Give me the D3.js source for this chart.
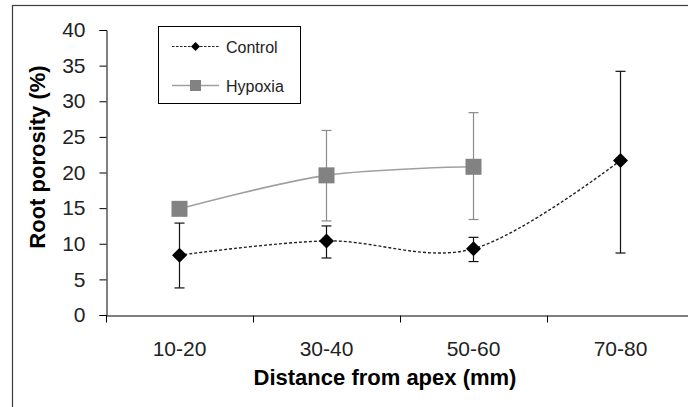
<!DOCTYPE html>
<html>
<head>
<meta charset="utf-8">
<script src="https://cdn.jsdelivr.net/npm/d3@7"></script>
<style>
  body { margin: 0; background: #fff; }
  svg { display: block; font-family: "Liberation Sans", Arial, sans-serif; }
</style>
</head>
<body>
<div id="chart"></div>
<script>
// Root porosity along the root, control vs hypoxia

// data
let categories = ['10-20', '30-40', '50-60', '70-80']
let yTicks = [0, 5, 10, 15, 20, 25, 30, 35, 40]

let controlMean = [8.4, 10.4, 9.3, 21.7]
let controlLow = [3.8, 8.0, 7.5, 8.7]
let controlHigh = [12.9, 12.5, 10.9, 34.2]

let hypoxiaMean = [14.9, 19.6, 20.8]
let hypoxiaLow = [14.3, 13.2, 13.4]
let hypoxiaHigh = [15.5, 25.9, 28.4]

let chart = {
  width: 688,
  height: 407,
  left: 106,
  right: 694,
  top: 30,
  bottom: 315,
}

let svg = d3.select('#chart')
  .append('svg')
  .attr('width', chart.width)
  .attr('height', chart.height)

// outer chart frame (runs off the right and bottom edge)
svg.append('rect')
  .attr('x', 12.5)
  .attr('y', 5.5)
  .attr('width', 700)
  .attr('height', 420)
  .attr('fill', '#fff')
  .attr('stroke', '#3c3c3c')
  .attr('stroke-width', 1.2)

let x = d3.scaleBand()
  .domain(categories)
  .range([chart.left, chart.right])

let y = d3.scaleLinear()
  .domain([0, 40])
  .range([chart.bottom, chart.top])

let cx = (d) => x(d) + x.bandwidth() / 2

// y axis
let yAxis = svg.append('g')
  .attr('transform', `translate(${chart.left + 0.5},0)`)
  .call(d3.axisLeft(y).tickValues(yTicks).tickSize(7).tickPadding(14))

// x axis, ticks sit on the category boundaries
let xAxis = svg.append('g')
  .attr('transform', `translate(0,${chart.bottom + 0.5})`)
  .call(d3.axisBottom(x).tickSize(0).tickPadding(26))

xAxis.selectAll('.tick-mark')
  .data(categories)
  .enter()
  .append('line')
  .attr('class', 'tick-mark')
  .attr('x1', (d) => Math.round(x(d)) + 0.5)
  .attr('x2', (d) => Math.round(x(d)) + 0.5)
  .attr('y1', 0)
  .attr('y2', 7)
  .attr('stroke', '#000')

svg.selectAll('.domain').attr('stroke', '#000')
svg.selectAll('.tick line').attr('stroke', '#000')
svg.selectAll('.tick text')
  .attr('font-size', 21)
  .attr('fill', '#222')
  .attr('font-family', '"Liberation Sans", Arial, sans-serif')

// axis titles
svg.append('text')
  .attr('transform', `translate(45,157) rotate(-90)`)
  .attr('text-anchor', 'middle')
  .attr('font-size', 22)
  .attr('font-weight', 'bold')
  .text('Root porosity (%)')

svg.append('text')
  .attr('x', 385)
  .attr('y', 385)
  .attr('text-anchor', 'middle')
  .attr('font-size', 22)
  .attr('font-weight', 'bold')
  .text('Distance from apex (mm)')

// series
let line = d3.line()
  .x((d) => cx(d.cat))
  .y((d) => y(d.v))
  .curve(d3.curveCardinal.tension(0))

let control = categories.map((c, i) => ({cat: c, v: controlMean[i], lo: controlLow[i], hi: controlHigh[i]}))
let hypoxia = hypoxiaMean.map((v, i) => ({cat: categories[i], v: v, lo: hypoxiaLow[i], hi: hypoxiaHigh[i]}))

function errorBars(data, color) {
  let g = svg.append('g').attr('stroke', color).attr('stroke-width', 1.2)
  g.selectAll('.bar')
    .data(data)
    .enter()
    .append('line')
    .attr('x1', (d) => cx(d.cat))
    .attr('x2', (d) => cx(d.cat))
    .attr('y1', (d) => y(d.lo))
    .attr('y2', (d) => y(d.hi))
  g.selectAll('.cap-lo')
    .data(data)
    .enter()
    .append('line')
    .attr('x1', (d) => cx(d.cat) - 5)
    .attr('x2', (d) => cx(d.cat) + 5)
    .attr('y1', (d) => y(d.lo))
    .attr('y2', (d) => y(d.lo))
  g.selectAll('.cap-hi')
    .data(data)
    .enter()
    .append('line')
    .attr('x1', (d) => cx(d.cat) - 5)
    .attr('x2', (d) => cx(d.cat) + 5)
    .attr('y1', (d) => y(d.hi))
    .attr('y2', (d) => y(d.hi))
}

errorBars(hypoxia, '#8a8a8a')
errorBars(control, '#111')

svg.append('path')
  .datum(hypoxia)
  .attr('d', line)
  .attr('fill', 'none')
  .attr('stroke', '#a0a0a0')
  .attr('stroke-width', 1.6)

svg.append('path')
  .datum(control)
  .attr('d', line)
  .attr('fill', 'none')
  .attr('stroke', '#222')
  .attr('stroke-width', 1.4)
  .attr('stroke-dasharray', '3,2')

let diamond = (r) => `M0,${-r}L${r},0L0,${r}L${-r},0Z`

svg.selectAll('.sq')
  .data(hypoxia)
  .enter()
  .append('rect')
  .attr('x', (d) => cx(d.cat) - 8)
  .attr('y', (d) => y(d.v) - 8)
  .attr('width', 16)
  .attr('height', 16)
  .attr('fill', '#828282')

svg.selectAll('.dm')
  .data(control)
  .enter()
  .append('path')
  .attr('transform', (d) => `translate(${cx(d.cat)},${y(d.v)})`)
  .attr('d', diamond(7.5))
  .attr('fill', '#000')

// legend
let legend = svg.append('g')
legend.append('rect')
  .attr('x', 158.5)
  .attr('y', 26.5)
  .attr('width', 142)
  .attr('height', 77)
  .attr('fill', '#fff')
  .attr('stroke', '#000')
  .attr('stroke-width', 1)

legend.append('line')
  .attr('x1', 172).attr('x2', 219).attr('y1', 46.5).attr('y2', 46.5)
  .attr('stroke', '#222').attr('stroke-width', 1.2).attr('stroke-dasharray', '2.5,1.5')
legend.append('path')
  .attr('transform', 'translate(195.5,46.5)')
  .attr('d', diamond(4.5))
  .attr('fill', '#000')
legend.append('text')
  .attr('x', 226).attr('y', 52.5)
  .attr('font-size', 16).attr('fill', '#222')
  .text('Control')

legend.append('line')
  .attr('x1', 172).attr('x2', 219).attr('y1', 85.5).attr('y2', 85.5)
  .attr('stroke', '#a0a0a0').attr('stroke-width', 1.4)
legend.append('rect')
  .attr('x', 190).attr('y', 80).attr('width', 11).attr('height', 11)
  .attr('fill', '#828282')
legend.append('text')
  .attr('x', 226).attr('y', 91.5)
  .attr('font-size', 16).attr('fill', '#222')
  .text('Hypoxia')
</script>
</body>
</html>
